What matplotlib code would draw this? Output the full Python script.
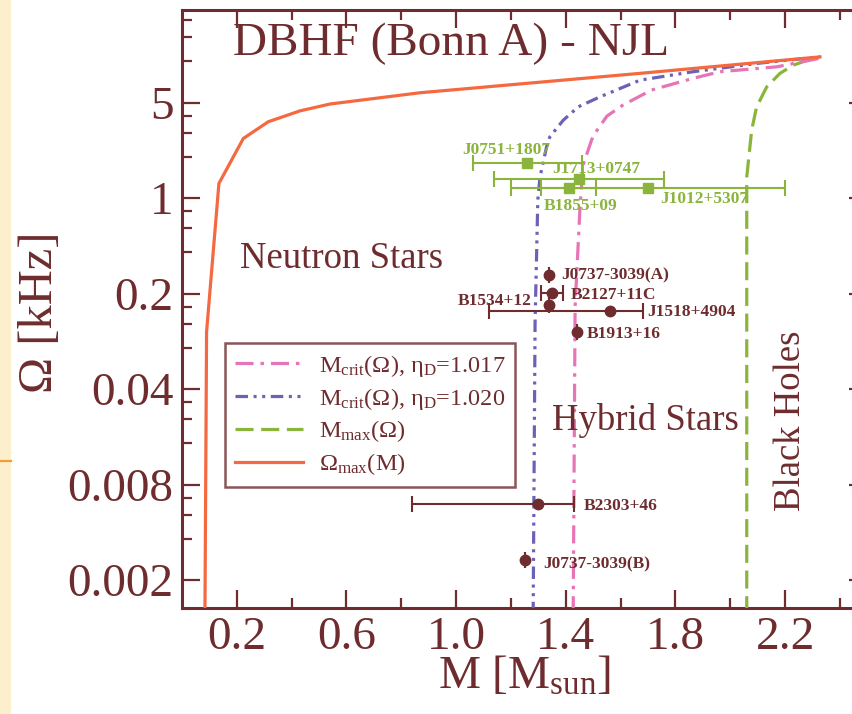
import matplotlib
matplotlib.use("Agg")
import matplotlib.pyplot as plt
from matplotlib.ticker import FixedLocator, FixedFormatter, NullFormatter
from matplotlib.patches import Rectangle
from matplotlib.lines import Line2D

plt.rcParams['font.family'] = ['Liberation Serif', 'DejaVu Serif']
plt.rcParams['mathtext.fontset'] = 'custom'
plt.rcParams['mathtext.rm'] = 'Liberation Serif'
plt.rcParams['mathtext.it'] = 'Liberation Serif:italic'
plt.rcParams['mathtext.bf'] = 'Liberation Serif:bold'
plt.rcParams['lines.scale_dashes'] = False

# ---------------- data ----------------
# Omega_max(M): Kepler frequency limit
omax_M = [0.084, 0.090, 0.135, 0.224, 0.315, 0.431, 0.540, 0.868, 1.670, 2.327]
omax_W = [0.0009, 0.105, 1.28, 2.73, 3.62, 4.35, 4.88, 5.90, 8.18, 10.8]

# M_crit(Omega) for eta_D = 1.020
crit20_M = [1.281, 1.288, 1.298, 1.306, 1.330, 1.342, 1.391, 1.446, 1.525, 1.671, 1.864, 2.108, 2.327]
crit20_W = [0.0009, 0.122, 0.97, 1.43, 2.37, 2.81, 3.72, 4.66, 5.51, 7.30, 8.41, 9.73, 10.8]

# M_crit(Omega) for eta_D = 1.017
crit17_M = [1.427, 1.434, 1.452, 1.463, 1.494, 1.507, 1.550, 1.608, 1.713, 1.864, 1.962, 2.170, 2.327]
crit17_W = [0.0009, 0.160, 0.864, 1.74, 2.66, 2.99, 3.98, 4.79, 6.18, 7.52, 8.41, 9.14, 10.55]

# M_max(Omega)
mmax_M = [2.060, 2.060, 2.078, 2.096, 2.133, 2.181, 2.230, 2.315]
mmax_W = [0.0009, 1.43, 3.15, 4.66, 6.52, 8.18, 9.40, 10.8]

# millisecond pulsars (green squares)
msp_names = ['J0751+1807', 'J1713+0747', 'B1855+09', 'J1012+5307']
msp_M = [1.26, 1.45, 1.41, 1.70]
msp_W = [1.81, 1.37, 1.18, 1.19]
msp_err_lo = [0.20, 0.31, 0.10, 0.50]
msp_err_hi = [0.20, 0.31, 0.10, 0.50]

# slower pulsars (dark circles)
psr_names = ['J0737-3039(A)', 'B2127+11C', 'B1534+12', 'J1518+4904',
             'B1913+16', 'B2303+46', 'J0737-3039(B)']
psr_M = [1.34, 1.35, 1.34, 1.56, 1.44, 1.30, 1.25]
psr_W = [0.273, 0.201, 0.165, 0.150, 0.105, 0.0058, 0.00224]
psr_err_lo = [0.0, 0.04, 0.0, 0.44, 0.0, 0.46, 0.0]
psr_err_hi = [0.0, 0.04, 0.0, 0.12, 0.0, 0.13, 0.0]

# axis ticks
x_major = [0.2, 0.6, 1.0, 1.4, 1.8, 2.2]
x_minor = [0.4, 0.8, 1.2, 1.6, 2.0, 2.4]
y_major = [0.0016, 0.008, 0.04, 0.2, 1.0, 5.0]
y_labels = ['0.002', '0.008', '0.04', '0.2', '1', '5']

# ---------------- style ----------------
MAROON = '#6E2C2E'
ORANGE = '#F4693F'
PINK = '#E774B6'
BLUE = '#6B62B8'
GREEN = '#8AB43C'

# label offsets in pixels (dx, dy up) relative to each marker, plus alignment
msp_offsets = [(-65, 9, 'left'), (-27, 6, 'left'), (-25, -22, 'left'), (12, -15, 'left')]
psr_offsets = [(12, -4, 'left'), (19, -6, 'left'), (-18, 0, 'right'), (38, -5, 'left'),
               (10, -6, 'left'), (45, -6, 'left'), (19, -8, 'left')]

W, H = 852, 714
fig = plt.figure(figsize=(W / 100, H / 100), dpi=100)
fig.patch.set_facecolor('white')

# decorative strip on the left edge
fig.patches.append(Rectangle((0, 0), 11 / W, 1, transform=fig.transFigure,
                             facecolor='#FCEFCB', edgecolor='none', zorder=0))
fig.lines.append(Line2D([0, 11 / W], [1 - 461 / H, 1 - 461 / H], transform=fig.transFigure,
                        color='#F0A030', lw=1.6))

ax_left, ax_right = 181.9, 867.4
ax_top, ax_bot = 10, 608
ax = fig.add_axes([ax_left / W, 1 - ax_bot / H, (ax_right - ax_left) / W, (ax_bot - ax_top) / H])
ax.set_facecolor('white')
ax.set_yscale('log')
ax.set_xlim(0, 2.5)
ax.set_ylim(0.001, 23.8)

lw = 2.3
l_mmax, = ax.plot(mmax_M, mmax_W, color=GREEN, lw=lw, dashes=(13, 5.5), zorder=3)
l_c20, = ax.plot(crit20_M, crit20_W, color=BLUE, lw=lw, dashes=(9, 4, 2.2, 4, 2.2, 4), zorder=3)
l_c17, = ax.plot(crit17_M, crit17_W, color=PINK, lw=lw, dashes=(13, 5, 2.5, 5), zorder=3)
l_omax, = ax.plot(omax_M, omax_W, color=ORANGE, lw=lw, zorder=4)

# pulsars
ax.errorbar(msp_M, msp_W, xerr=[msp_err_lo, msp_err_hi], fmt='s', color=GREEN,
            ms=7.5, elinewidth=1.5, capsize=6, capthick=1.5, zorder=5)
ax.errorbar(psr_M, psr_W, xerr=[psr_err_lo, psr_err_hi], fmt='o', color=MAROON,
            ms=7.5, elinewidth=1.5, capsize=6, capthick=1.5, zorder=5)

for name, m, w, (dx, dy, ha) in zip(msp_names, msp_M, msp_W, msp_offsets):
    ax.annotate(name, (m, w), xytext=(dx * 0.72, dy * 0.72), textcoords='offset points',
                ha=ha, va='baseline', fontsize=12.5, fontweight='bold', color=GREEN, zorder=6)
for name, m, w, (dx, dy, ha) in zip(psr_names, psr_M, psr_W, psr_offsets):
    ax.annotate(name, (m, w), xytext=(dx * 0.72, dy * 0.72), textcoords='offset points',
                ha=ha, va='baseline', fontsize=12.5, fontweight='bold', color=MAROON, zorder=6)

# axes styling
for sp in ax.spines.values():
    sp.set_color(MAROON)
    sp.set_linewidth(2.2)
ax.xaxis.set_major_locator(FixedLocator(x_major))
ax.xaxis.set_minor_locator(FixedLocator(x_minor))
ax.xaxis.set_major_formatter(FixedFormatter([f'{v:.1f}' for v in x_major]))
ax.xaxis.set_minor_formatter(NullFormatter())
y_minor = [m * k for m in y_major for k in (2, 3, 4)]
ax.yaxis.set_major_locator(FixedLocator(y_major))
ax.yaxis.set_major_formatter(FixedFormatter(y_labels))
ax.yaxis.set_minor_locator(FixedLocator(y_minor))
ax.yaxis.set_minor_formatter(NullFormatter())
ax.tick_params(which='both', direction='in', top=True, right=True, color=MAROON,
               labelcolor=MAROON, width=1.6)
ax.tick_params(which='major', length=13, labelsize=34, pad=6)
ax.tick_params(which='minor', length=7)

def axfrac(px, py):
    return (px - ax_left) / (ax_right - ax_left), (ax_bot - py) / (ax_bot - ax_top)

ax.set_xlabel(r'M [M$_{\mathrm{sun}}$]', fontsize=34, color=MAROON)
ax.xaxis.set_label_coords(*axfrac(525, 655))
ax.set_ylabel('Ω [kHz]', fontsize=35, color=MAROON)
ax.yaxis.set_label_coords(*axfrac(62, 312))

ax.text(*axfrac(233, 55), 'DBHF (Bonn A) - NJL', transform=ax.transAxes, fontsize=34,
        color=MAROON, ha='left', va='baseline')
ax.text(*axfrac(240, 268), 'Neutron Stars', transform=ax.transAxes, fontsize=26.5,
        color=MAROON, ha='left', va='baseline')
ax.text(*axfrac(552, 430), 'Hybrid Stars', transform=ax.transAxes, fontsize=26.5,
        color=MAROON, ha='left', va='baseline')
ax.text(*axfrac(791, 421), 'Black Holes', transform=ax.transAxes, fontsize=26.5,
        color=MAROON, ha='center', va='center', rotation=90)

leg = ax.legend([l_c17, l_c20, l_mmax, l_omax],
                ['M$_{\\mathrm{crit}}$(Ω), η$_{\\mathrm{D}}$=1.017',
                 'M$_{\\mathrm{crit}}$(Ω), η$_{\\mathrm{D}}$=1.020',
                 'M$_{\\mathrm{max}}$(Ω)',
                 'Ω$_{\\mathrm{max}}$(M)'],
                loc='upper left', bbox_to_anchor=axfrac(225, 343), borderaxespad=0,
                fontsize=17.5, frameon=True, fancybox=False, handlelength=2.8,
                handletextpad=0.65, labelspacing=0.28, borderpad=0.4)
leg.get_frame().set_edgecolor(MAROON)
leg.get_frame().set_linewidth(1.8)
for t in leg.get_texts():
    t.set_color(MAROON)

fig.savefig('out.png', dpi=100)
